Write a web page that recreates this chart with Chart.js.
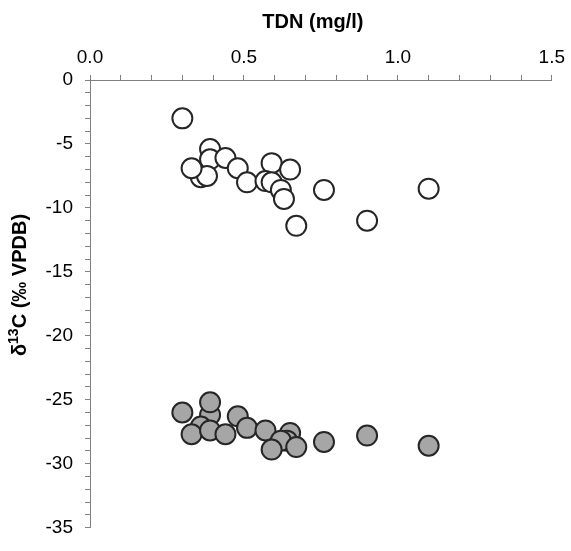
<!DOCTYPE html>
<html>
<head>
<meta charset="utf-8">
<script src="https://cdn.jsdelivr.net/npm/chart.js@4/dist/chart.umd.min.js"></script>
<style>
html,body{margin:0;padding:0;background:#fff;}
#wrap{width:571px;height:551px;}
</style>
</head>
<body>
<div id="wrap"><canvas id="c" width="571" height="551"></canvas></div>
<script>
// TDN (mg/l) and δ13C (‰ VPDB)
const openX = [0.30, 0.39, 0.39, 0.44, 0.36, 0.38, 0.33, 0.48, 0.51, 0.59, 0.65, 0.57, 0.59, 0.62, 0.63, 0.76, 0.67, 0.90, 1.10];
const openY = [-3.0, -5.4, -6.2, -6.1, -7.6, -7.5, -6.9, -6.9, -8.0, -6.5, -7.0, -7.9, -8.0, -8.6, -9.3, -8.6, -11.4, -11.0, -8.5];
const grayX = [0.30, 0.39, 0.39, 0.36, 0.33, 0.39, 0.44, 0.48, 0.51, 0.57, 0.65, 0.64, 0.62, 0.67, 0.59, 0.76, 0.90, 1.10];
const grayY = [-26.0, -26.2, -25.2, -27.1, -27.7, -27.4, -27.7, -26.3, -27.2, -27.4, -27.6, -28.2, -28.2, -28.7, -28.9, -28.3, -27.8, -28.6];
const xTickLabels = ['0.0', '0.5', '1.0', '1.5'];
const yTickLabels = ['0', '-5', '-10', '-15', '-20', '-25', '-30', '-35'];
const xTitle = 'TDN (mg/l)';
const yTitleParts = ['δ', '13', 'C (‰ VPDB)'];

const toPts = (xs, ys) => xs.map((x, i) => ({x: x, y: ys[i]}));
const FONT = "'Liberation Sans', Arial, sans-serif";

const titles = {
  id: 'titles',
  afterDraw(chart) {
    const ctx = chart.ctx;
    const xs = chart.scales.x;
    ctx.save();
    ctx.fillStyle = '#000';
    ctx.font = 'bold 20px ' + FONT;
    ctx.textAlign = 'center';
    ctx.textBaseline = 'middle';
    ctx.fillText(xTitle, (xs.left + xs.right) / 2 - 8, 22);
    // y title rotated with superscript
    ctx.translate(19, 285);
    ctx.rotate(-Math.PI / 2);
    const big = 'bold 20px ' + FONT, small = 'bold 14px ' + FONT;
    ctx.font = big; const w1 = ctx.measureText(yTitleParts[0]).width;
    const w3 = ctx.measureText(yTitleParts[2]).width;
    ctx.font = small; const w2 = ctx.measureText(yTitleParts[1]).width;
    let x0 = -(w1 + w2 + w3) / 2;
    ctx.textAlign = 'left';
    ctx.textBaseline = 'alphabetic';
    ctx.font = big; ctx.fillText(yTitleParts[0], x0, 7);
    ctx.font = small; ctx.fillText(yTitleParts[1], x0 + w1, -1);
    ctx.font = big; ctx.fillText(yTitleParts[2], x0 + w1 + w2, 7);
    ctx.restore();
  }
};

new Chart(document.getElementById('c'), {
  type: 'scatter',
  data: {
    datasets: [
      {data: toPts(openX, openY), backgroundColor: '#ffffff', borderColor: '#262626', borderWidth: 2, pointRadius: 10, pointHoverRadius: 10},
      {data: toPts(grayX, grayY), backgroundColor: '#a6a6a6', borderColor: '#262626', borderWidth: 2, pointRadius: 10, pointHoverRadius: 10}
    ]
  },
  options: {
    responsive: false,
    animation: false,
    events: [],
    layout: {padding: {right: 18, bottom: 13, left: 0, top: 0}},
    plugins: {legend: {display: false}, tooltip: {enabled: false}},
    scales: {
      x: {
        type: 'linear', position: 'top', min: 0, max: 1.5,
        afterFit(s) { s.height = 80; },
        afterBuildTicks(s) { const t = []; for (let i = 0; i <= 15; i++) t.push({value: i / 10}); s.ticks = t; },
        ticks: {
          autoSkip: false, maxRotation: 0, padding: 6, color: '#000',
          font: {size: 19, family: FONT},
          callback(v) { const k = Math.round(v * 10); return k % 5 === 0 ? xTickLabels[k / 5] : ''; }
        },
        grid: {drawOnChartArea: false, drawTicks: true, tickLength: 5, color: '#808080', lineWidth: 1},
        border: {display: true, color: '#808080', width: 1}
      },
      y: {
        type: 'linear', min: -35, max: 0,
        afterFit(s) { s.width = 90; },
        afterBuildTicks(s) { const t = []; for (let i = -35; i <= 0; i++) t.push({value: i}); s.ticks = t; },
        ticks: {
          autoSkip: false, padding: 12, color: '#000',
          font: {size: 19, family: FONT},
          callback(v) { const k = Math.round(v); return k % 5 === 0 ? yTickLabels[-k / 5] : ''; }
        },
        grid: {drawOnChartArea: false, drawTicks: true, tickLength: 5, color: '#808080', lineWidth: 1},
        border: {display: true, color: '#808080', width: 1}
      }
    }
  },
  plugins: [titles]
});
</script>
</body>
</html>
